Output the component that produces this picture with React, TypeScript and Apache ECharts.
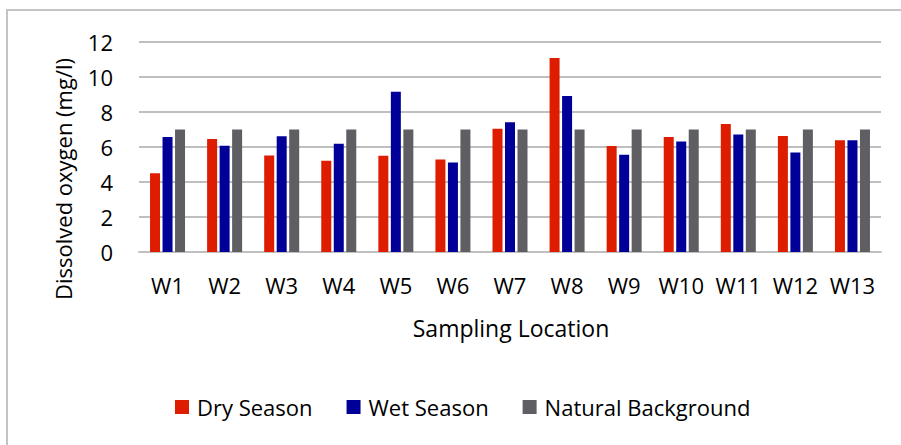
import React, { useEffect, useRef } from "react";
import * as echarts from "echarts";

const categories = ["W1", "W2", "W3", "W4", "W5", "W6", "W7", "W8", "W9", "W10", "W11", "W12", "W13"];
const drySeason = [4.5, 6.46, 5.52, 5.22, 5.5, 5.29, 7.05, 11.09, 6.06, 6.57, 7.31, 6.63, 6.38];
const wetSeason = [6.57, 6.07, 6.61, 6.19, 9.16, 5.12, 7.41, 8.91, 5.56, 6.32, 6.72, 5.69, 6.38];
const naturalBackground = [7, 7, 7, 7, 7, 7, 7, 7, 7, 7, 7, 7, 7];
const seriesNames = ["Dry Season", "Wet Season", "Natural Background"];
const yTicks = { min: 0, max: 12, interval: 2 };

const FONT = "Open Sans";

export default function App() {
  const ref = useRef<HTMLDivElement>(null);
  useEffect(() => {
    if (!ref.current) return;
    const chart = echarts.init(ref.current, null, { renderer: "svg" });
    const colors = ["#DD1C00", "#000099", "#5F5E63"];
    const data = [drySeason, wetSeason, naturalBackground];
    chart.setOption({
      animation: false,
      backgroundColor: "#ffffff",
      textStyle: { fontFamily: FONT },
      grid: { left: 139, right: 20, top: 42, bottom: 193, containLabel: false },
      legend: {
        data: seriesNames,
        left: 170,
        top: 391,
        itemWidth: 14,
        itemHeight: 14,
        itemGap: 34,
        icon: "rect",
        textStyle: { fontFamily: FONT, fontSize: 22, color: "#000", padding: [0, 0, 0, 3] },
      },
      xAxis: {
        type: "category",
        data: categories,
        axisLine: { show: true, lineStyle: { color: "#BFBFBF", width: 2 } },
        axisTick: { show: false },
        axisLabel: { fontFamily: FONT, fontSize: 22, color: "#000", margin: 22, interval: 0 },
      },
      yAxis: {
        type: "value",
        min: yTicks.min,
        max: yTicks.max,
        interval: yTicks.interval,
        axisLine: { show: false },
        axisTick: { show: false },
        splitLine: { lineStyle: { color: "#BFBFBF", width: 2 } },
        axisLabel: { fontFamily: FONT, fontSize: 22, color: "#000", margin: 26 },
      },
      graphic: [
        {
          type: "rect",
          shape: { x: 7, y: 10, width: 1000, height: 1000 },
          style: { fill: "none", stroke: "#C4C4C4", lineWidth: 2 },
          silent: true,
          z: -10,
        },
        {
          type: "text",
          x: 63,
          y: 179,
          rotation: Math.PI / 2,
          style: {
            text: "Dissolved oxygen (mg/l)",
            font: `22px "${FONT}"`,
            fill: "#000",
            textAlign: "center",
            textVerticalAlign: "middle",
          },
        },
        {
          type: "text",
          x: 511,
          y: 328,
          style: {
            text: "Sampling Location",
            font: `23px "${FONT}"`,
            fill: "#000",
            textAlign: "center",
            textVerticalAlign: "middle",
          },
        },
      ],
      series: seriesNames.map((name, i) => ({
        name,
        type: "bar",
        data: data[i],
        barWidth: 10,
        barGap: "25%",
        itemStyle: { color: colors[i] },
      })),
    });
    return () => chart.dispose();
  }, []);
  return <div ref={ref} style={{ position: "fixed", left: 0, top: 0, width: 901, height: 445 }} />;
}
